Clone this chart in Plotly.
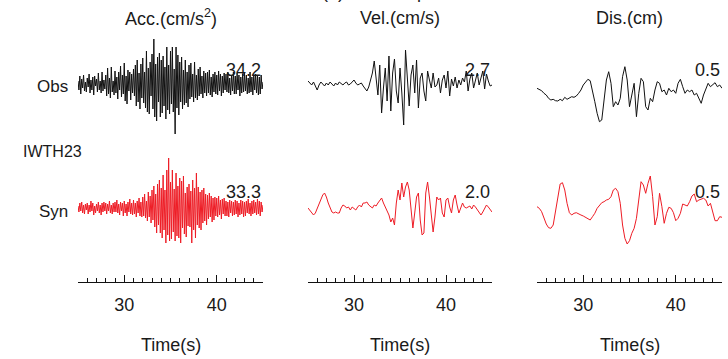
import plotly.graph_objects as go

W, H = 728, 359

# ---------------- data ----------------
components = ["Acc.(cm/s<sup>2</sup>)", "Vel.(cm/s)", "Dis.(cm)"]
station = "IWTH23"
row_labels = ["Obs", "Syn"]
peak_obs = ["34.2", "2.7", "0.5"]
peak_syn = ["33.3", "2.0", "0.5"]
tick_values = [30, 40]
tick_labels = ["30", "40"]
time_range = [25, 45]

acc_t0, acc_dt = 25.0, 0.1
acc_obs = [
    3, -6, 8, -10, 5, -4, 9, -7, 2, -8,
    6, -3, 10, -9, 4, -6, 7, -11, 8, -2,
    5, -8, 11, -6, 3, -9, 12, -7, 4, -5,
    9, -12, 16, -10, 6, -14, 17, -8, 3, -11,
    13, -9, 7, -15, 12, -6, 18, -13, 9, -10,
    21, -17, 8, -20, 14, -7, 12, -16, 10, -9,
    15, -12, 19, -22, 24, -18, 11, -25, 20, -14,
    26, -19, 12, -24, 33, -28, 16, -30, 22, -12,
    30, -25, 45, -33, 20, -37, 27, -18, 31, -33,
    24, -29, 28, -22, 17, -35, 37, -26, 19, -30,
    33, -20, 37, -28, 15, -50, 37, -24, 29, -31,
    22, -18, 27, -25, 14, -21, 24, -19, 12, -23,
    19, -15, 21, -13, 10, -18, 22, -14, 9, -16,
    15, -12, 17, -10, 8, -14, 13, -9, 11, -12,
    12, -9, 14, -11, 7, -13, 10, -8, 12, -10,
    9, -11, 13, -7, 10, -12, 8, -9, 11, -6,
    10, -8, 12, -9, 6, -11, 9, -7, 12, -10,
    8, -10, 11, -6, 9, -12, 7, -9, 10, -8,
    11, -7, 9, -10, 6, -9, 12, -8, 7, -11,
    9, -6, 10, -9, 8, -11, 7, -10, 9, -5,
    2,
]
acc_syn = [
    2, -4, 5, -3, 6, -5, 3, -6, 4, -2,
    5, -6, 3, -4, 7, -3, 5, -7, 2, -5,
    4, -3, 6, -5, 3, -7, 5, -4, 6, -3,
    5, -6, 4, -3, 7, -5, 3, -6, 5, -4,
    6, -4, 8, -5, 4, -7, 6, -3, 5, -8,
    7, -5, 4, -8, 6, -4, 9, -6, 5, -7,
    8, -6, 5, -9, 7, -5, 10, -8, 6, -9,
    11, -8, 14, -10, 7, -13, 16, -9, 12, -15,
    18, -12, 22, -19, 14, -25, 24, -17, 28, -25,
    20, -30, 33, -22, 18, -35, 38, -27, 50, -33,
    26, -31, 38, -24, 19, -33, 35, -28, 22, -30,
    30, -35, 27, -20, 32, -26, 15, -29, 21, -18,
    24, -19, 17, -35, 28, -22, 20, -30, 35, -17,
    21, -20, 16, -22, 18, -15, 20, -13, 14, -17,
    13, -11, 15, -9, 12, -14, 10, -12, 11, -8,
    10, -9, 12, -7, 8, -11, 9, -6, 10, -8,
    7, -8, 6, -9, 8, -5, 7, -8, 6, -7,
    8, -6, 7, -9, 5, -7, 8, -6, 7, -9,
    6, -8, 7, -5, 9, -6, 5, -8, 7, -6,
    8, -5, 6, -7, 9, -6, 7, -8, 6, -4,
    3,
]

vel_t0, vel_dt = 25.0, 0.2
vel_obs = [
    2, 0, -2, 1, -4, -7, -2, 1, -1, -3,
    0, -2, 1, -1, -3, 0, -2, 1, -1, -2,
    0, 1, -2, -1, 1, 3, 0, -2, -1, 0,
    -3, -6, -8, -4, 2, 10, 22, 5, -12, 18,
    -30, -5, 15, -18, 27, -28, 10, 24, -8, -20,
    15, -10, -42, 33, 5, -23, 8, 18, -10, 23,
    -25, 5, 10, -8, -18, 12, 3, -5, 10, -4,
    -2, 5, -10, 3, 8, -5, 12, -13, 4, -3,
    6, -5, 3, -2, 5, 1, 12, -8, 4, 10,
    -5, 3, 10, -2, 5, 12, -6, 9, 2, -3,
    -2,
]
vel_syn = [
    2, 0, -3, -5, -3, 2, 7, 12, 15, 17,
    13, 7, 2, -2, -3, -2, -3, -3, 2, 5,
    4, 2, 3, 0, 3, 1, 0, 3, 5, 3,
    7, 7, 8, 5, 3, 2, 5, 4, 7, 10,
    12, 7, 3, -2, -5, -12, -8, -15, 7, 20,
    10, 27, 13, 23, 28, 20, -3, -18, -3, 13,
    17, -10, -25, -23, 17, 28, 13, -7, -22, -7,
    13, 10, 12, -3, -7, 10, 12, 3, -3, 10,
    15, 5, -3, 2, 7, 3, 2, 3, 4, 1,
    5, 3, 0, -3, -5, -2, 2, 5, 3, 0,
    -2,
]

dis_t0, dis_dt = 25.0, 0.25
dis_obs = [
    -3.3, -4.3, -5.7, -8.3, -10, -13.3, -15, -14.3, -15.7, -16,
    -14.3, -15.7, -12.3, -14.3, -13.3, -11.7, -12.3, -11, -8.3, -5,
    0, 3.3, 5.7, 4.3, -5, -16.7, -28.3, -36.7, -35, -15,
    5, 13.3, 1.7, -21.7, -16.7, -20, -13.3, 8.3, 18.3, 5,
    -21.7, -10, 1.7, -31.7, -8.3, 6.7, 3.3, -21.7, -25, -13.3,
    -16.7, -5, 3.3, 1.7, -6.7, -5, -10, -3.3, -6.7, -5,
    -8.3, 1.7, 5.7, -1.7, -8.3, -5, -6.7, -5, -10, -8.3,
    -13.3, -18.3, -10, -3.3, 1.7, -1.7, 0, 2.3, -1.7, 0,
    -3.3,
]
dis_syn = [
    3.3, 1.7, -1.7, -8.3, -14, -17.7, -18.3, -15, -1.7, 13.3,
    26, 27.3, 20, 6.7, -2.7, -5, -3.3, -2.7, -4.3, -5,
    -6, -7.3, -8.3, -10, -6.7, -3.3, 1.7, 5, 7.3, 8.3,
    10, 10.7, 13.3, 20, 21.7, 18.3, 6.7, -15, -28.3, -34,
    -30.7, -23.3, -18.3, -8.3, 13.3, 28.3, 25, 16.7, 26.7, 34,
    13.3, -15, -6.7, 16.7, 3.3, -13.3, -3.3, 2.7, 1.7, -2.7,
    -10.7, -8.3, -3.3, 6, 5, 4, 8.3, 14, 16, 8.3,
    10, 10.7, 11.7, 10, 4, 6.7, -3.3, -10.7, -10.7, -6.7,
    -7.3,
]

# ---------------- layout helpers ----------------
PLOT_BOTTOM = 282          # pixel row of the time axis line
col_px = [(78, 263), (308, 492), (537, 722)]
obs_base = [-84, -83, -85]
syn_base = [-208, -210, -210]
BLACK = "#111111"
RED = "#ee1c25"
FONT = "Liberation Sans, Arial, sans-serif"


def times(t0, dt, n):
    return [round(t0 + dt * i, 4) for i in range(n)]


def px(x):
    return x / W


def py(y):
    return 1 - y / PLOT_BOTTOM


series = [
    (acc_t0, acc_dt, acc_obs, acc_syn),
    (vel_t0, vel_dt, vel_obs, vel_syn),
    (dis_t0, dis_dt, dis_obs, dis_syn),
]

fig = go.Figure()
for i, (t0, dt, obs, syn) in enumerate(series):
    ax = "x" if i == 0 else f"x{i + 1}"
    fig.add_trace(go.Scatter(
        x=times(t0, dt, len(obs)), y=[obs_base[i] + v for v in obs],
        mode="lines", line=dict(color=BLACK, width=1), xaxis=ax, yaxis="y",
        hoverinfo="skip", showlegend=False))
    fig.add_trace(go.Scatter(
        x=times(t0, dt, len(syn)), y=[syn_base[i] + v for v in syn],
        mode="lines", line=dict(color=RED, width=1), xaxis=ax, yaxis="y",
        hoverinfo="skip", showlegend=False))

axis_common = dict(
    range=time_range, showline=True, linecolor=BLACK, linewidth=1,
    ticks="inside", ticklen=7, tickwidth=1, tickcolor=BLACK,
    tickvals=tick_values, ticktext=tick_labels, showgrid=False, zeroline=False,
    tickfont=dict(family=FONT, size=18, color="#1a1a1a"),
    ticklabelstandoff=6,
    minor=dict(dtick=1, tick0=25, ticks="inside", ticklen=4, tickwidth=1,
               tickcolor=BLACK, showgrid=False),
    fixedrange=True,
)
layout = dict(
    width=W, height=H,
    margin=dict(l=0, r=0, t=0, b=H - PLOT_BOTTOM, pad=0),
    paper_bgcolor="white", plot_bgcolor="white",
    font=dict(family=FONT, size=18, color="#1a1a1a"),
    yaxis=dict(range=[-PLOT_BOTTOM, 0], visible=False, fixedrange=True,
               anchor="x"),
)
for i, (x0, x1) in enumerate(col_px):
    key = "xaxis" if i == 0 else f"xaxis{i + 1}"
    layout[key] = dict(axis_common, domain=[px(x0), px(x1)], anchor="y")
fig.update_layout(**layout)

ann = []


def add_text(text, x, y, xanchor="center", size=18):
    ann.append(dict(text=text, x=px(x), y=py(y), xref="paper", yref="paper",
                    xanchor=xanchor, yanchor="middle", showarrow=False,
                    font=dict(family=FONT, size=size, color="#1a1a1a")))


add_text("(a) EW component", 397, -8)
for i, (x0, x1) in enumerate(col_px):
    mid = (x0 + x1) / 2
    add_text(components[i], mid, 18)
    add_text("Time(s)", mid, 345)
    add_text(peak_obs[i], x1, 70, xanchor="right")
    add_text(peak_syn[i], x1, 192, xanchor="right")
add_text(row_labels[0], 70, 86, xanchor="right", size=17)
add_text(row_labels[1], 70, 211, xanchor="right", size=17)
add_text(station, 21, 151, xanchor="left", size=16)
fig.update_layout(annotations=ann)

fig.write_html(
    "out.html",
    config={"displayModeBar": False},
    post_script="document.body.style.margin='0';document.body.style.overflow='hidden';",
)
